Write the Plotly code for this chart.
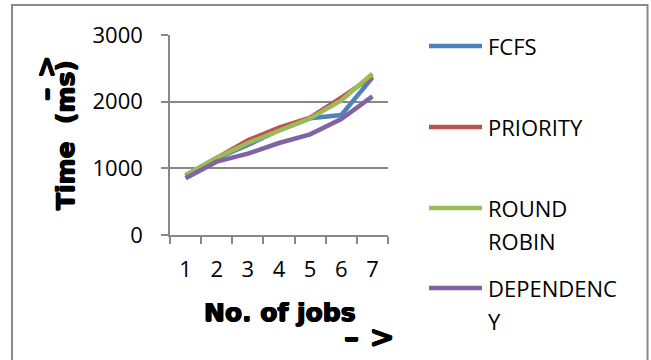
import plotly.graph_objects as go

jobs = ["1", "2", "3", "4", "5", "6", "7"]
fcfs = [890, 1150, 1350, 1570, 1750, 1800, 2360]
priority = [890, 1150, 1420, 1610, 1760, 2060, 2380]
round_robin = [900, 1160, 1380, 1560, 1750, 2020, 2420]
dependency = [850, 1100, 1220, 1380, 1510, 1740, 2080]

series_names = ["FCFS", "PRIORITY", "ROUND ROBIN", "DEPENDENCY"]
legend_lines = [["FCFS"], ["PRIORITY"], ["ROUND", "ROBIN"], ["DEPENDENC", "Y"]]
colors = ["#4F81BD", "#C0504D", "#9BBB59", "#8064A2"]
series_values = [fcfs, priority, round_robin, dependency]

y_ticks = [0, 1000, 2000, 3000]

# pixel geometry of plot area
L, R, T, B = 170, 388, 35, 235
W, H = 651, 360


def px(x):
    return (x - L) / (R - L)


def py(y):
    return (B - y) / (B - T)


fig = go.Figure()
for name, vals, col in zip(series_names, series_values, colors):
    fig.add_trace(go.Scatter(x=jobs, y=vals, mode="lines", name=name,
                             line=dict(color=col, width=4.5), showlegend=False))

annotations = []
shapes = []

# manual legend
leg_y = [46, 127, 208, 288]
for lines, col, yy in zip(legend_lines, colors, leg_y):
    shapes.append(dict(type="line", xref="paper", yref="paper",
                       x0=px(429), x1=px(482), y0=py(yy), y1=py(yy),
                       line=dict(color=col, width=4.5)))
    for i, t in enumerate(lines):
        annotations.append(dict(text=t, xref="paper", yref="paper",
                                x=px(486), y=py(yy + i * 33), xanchor="left",
                                yanchor="middle", showarrow=False,
                                font=dict(family="Open Sans", size=22, color="#000")))

heavy = "0.7px 0 0 #000, -0.7px 0 0 #000, 0 0.5px 0 #000, 0 -0.5px 0 #000"
bold = dict(family="DejaVu Sans", size=25, color="#000", shadow=heavy)
arrow_font = dict(family="DejaVu Sans", size=30, color="#000", shadow=heavy)
y_arrow_font = dict(family="DejaVu Sans", size=27, color="#000", shadow=heavy)
annotations += [
    dict(text="<b>No. of jobs</b>", xref="paper", yref="paper", x=px(280), y=py(312),
         xanchor="center", yanchor="middle", showarrow=False, font=bold),
    dict(text="<b>– ></b>", xref="paper", yref="paper", x=px(369), y=py(336),
         xanchor="center", yanchor="middle", showarrow=False, font=arrow_font),
    dict(text="<b>Time  (ms)</b>", xref="paper", yref="paper", x=px(65), y=py(135),
         xanchor="center", yanchor="middle", showarrow=False, textangle=-90, font=bold),
    dict(text="<b>– ></b>", xref="paper", yref="paper", x=px(45), y=py(78),
         xanchor="center", yanchor="middle", showarrow=False, textangle=-90,
         font=y_arrow_font),
]

# outer chart border
shapes.append(dict(type="rect", xref="paper", yref="paper",
                   x0=px(12), x1=px(647.5), y0=py(5), y1=py(380),
                   line=dict(color="#8a8a8a", width=2), fillcolor="rgba(0,0,0,0)"))

fig.update_layout(
    width=W, height=H,
    margin=dict(l=L, r=W - R, t=T, b=H - B, pad=0),
    paper_bgcolor="white", plot_bgcolor="white",
    annotations=annotations, shapes=shapes,
    showlegend=False,
    font=dict(family="Open Sans", size=22, color="#000"),
)
fig.update_xaxes(type="category", range=[-0.5, 6.5], tickson="boundaries",
                 ticks="outside", ticklen=7,
                 tickwidth=1.5, tickcolor="#888", showline=True, linecolor="#888",
                 linewidth=1.5, showgrid=False, ticklabelstandoff=14,
                 tickfont=dict(family="Open Sans", size=22, color="#000"))
fig.update_yaxes(range=[0, 3000], tickvals=y_ticks, ticks="outside", ticklen=7,
                 tickwidth=1.5, tickcolor="#888", showline=True, linecolor="#888",
                 linewidth=1.5, showgrid=True, gridcolor="#888", gridwidth=1.5,
                 zeroline=False, ticklabelstandoff=14,
                 tickfont=dict(family="Open Sans", size=22, color="#000"))

fig.write_html("out.html")
